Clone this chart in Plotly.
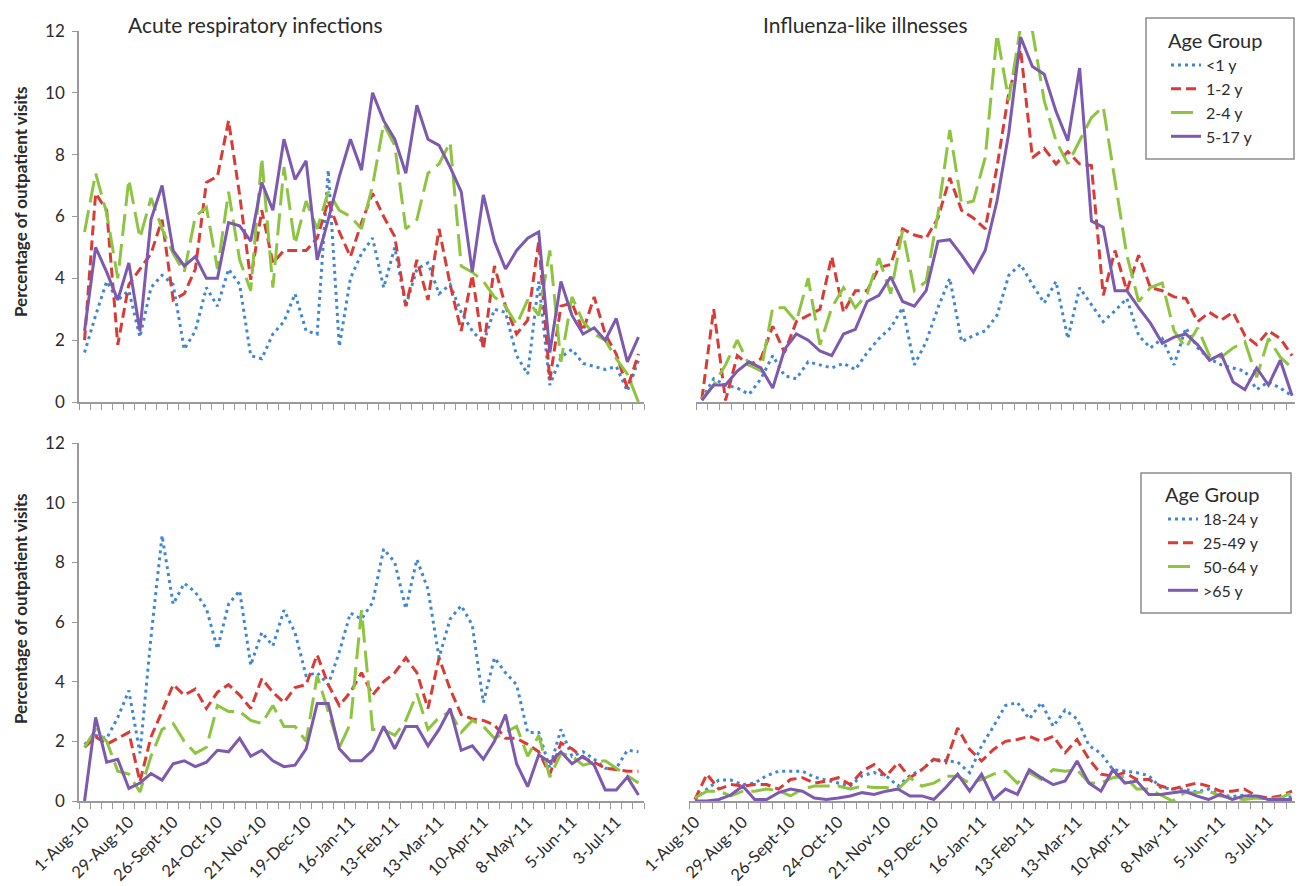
import plotly.graph_objects as go

# ---------------- data ----------------
WEEK_INDEX = list(range(51))  # weekly, 1-Aug-10 ... 17-Jul-11
TICK_POS = list(range(0, 51, 4))
TICK_LABELS = ["1-Aug-10", "29-Aug-10", "26-Sept-10", "24-Oct-10", "21-Nov-10",
               "19-Dec-10", "16-Jan-11", "13-Feb-11", "13-Mar-11", "10-Apr-11",
               "8-May-11", "5-Jun-11", "3-Jul-11"]

CHILD_GROUPS = ["<1 y", "1-2 y", "2-4 y", "5-17 y"]
ADULT_GROUPS = ["18-24 y", "25-49 y", "50-64 y", ">65 y"]

# Acute respiratory infections - children
ari_lt1 = [1.6, 2.8, 3.9, 3.3, 3.6, 2.1, 3.7, 4.1, 3.8, 1.7,
           2.3, 3.7, 3.1, 4.3, 3.8, 1.5, 1.4, 2.2, 2.6, 3.5,
           2.3, 2.2, 7.5, 1.8, 4.0, 4.8, 5.3, 3.7, 5.0, 3.1,
           4.3, 4.5, 3.5, 3.8, 2.9, 2.3, 1.9, 3.0, 2.9, 1.5,
           0.9, 3.9, 0.55, 1.45, 1.7, 1.25, 1.15, 1.05, 1.15, 0.35, 1.35]
ari_1_2 = [2.0, 6.75, 6.2, 1.85, 3.8, 4.3, 4.8, 5.9, 3.3, 3.5,
           4.3, 7.1, 7.3, 9.1, 6.7, 3.95, 6.2, 4.5, 4.9, 4.9,
           4.9, 5.3, 6.5, 5.5, 4.7, 5.8, 6.75, 6.0, 5.35, 3.1,
           4.6, 3.3, 5.6, 3.8, 2.3, 4.1, 1.7, 4.4, 3.1, 2.2,
           2.65, 5.2, 0.7, 3.1, 3.2, 2.3, 3.4, 2.2, 1.55, 0.45, 1.55]
ari_2_4 = [5.5, 7.4, 6.1, 4.0, 7.2, 5.3, 6.6, 5.6, 4.8, 4.2,
           6.0, 6.3, 4.3, 6.8, 4.6, 3.6, 7.9, 3.7, 7.6, 5.1,
           6.5, 5.6, 6.8, 6.2, 6.0, 5.6, 7.0, 9.0, 8.3, 5.6,
           5.9, 7.4, 7.7, 8.4, 4.4, 4.2, 3.9, 3.4, 3.1, 2.5,
           3.3, 2.8, 4.9, 1.3, 3.4, 2.6, 2.2, 2.0, 1.4, 0.9, 0.0]
ari_5_17 = [2.3, 5.0, 4.2, 3.3, 4.5, 2.3, 5.9, 7.0, 4.9, 4.4,
            4.7, 4.0, 4.0, 5.8, 5.7, 5.2, 7.1, 6.2, 8.5, 7.2,
            7.8, 4.6, 5.9, 7.3, 8.5, 7.5, 10.0, 9.1, 8.5, 7.4,
            9.6, 8.5, 8.3, 7.6, 6.8, 4.2, 6.7, 5.2, 4.3, 4.9,
            5.3, 5.5, 1.6, 3.9, 2.8, 2.2, 2.4, 2.0, 2.7, 1.3, 2.1]

# Influenza-like illnesses - children
ili_lt1 = [0.1, 0.75, 0.55, 0.45, 0.25, 0.75, 1.5, 0.85, 0.75, 1.3,
           1.2, 1.1, 1.25, 1.05, 1.6, 2.05, 2.4, 3.05, 1.2, 1.95,
           3.05, 4.0, 1.95, 2.15, 2.3, 2.8, 4.1, 4.45, 3.8, 3.2,
           3.9, 2.05, 3.7, 3.15, 2.6, 2.95, 3.35, 2.15, 1.75, 2.05,
           1.2, 2.4, 1.75, 1.4, 1.2, 1.1, 1.0, 0.4, 0.65, 0.45, 0.2]
ili_1_2 = [0.1, 3.0, 0.05, 1.5, 1.2, 1.4, 2.45, 1.6, 2.6, 2.8,
           3.0, 4.7, 2.9, 3.6, 3.6, 4.35, 4.45, 5.6, 5.4, 5.3,
           5.95, 7.25, 6.2, 5.95, 5.6, 7.6, 10.0, 11.4, 7.9, 8.2,
           7.7, 8.1, 7.7, 7.65, 3.45, 4.9, 3.6, 4.75, 3.7, 3.6,
           3.4, 3.35, 2.6, 2.9, 2.65, 2.9, 2.15, 1.85, 2.3, 2.05, 1.5]
ili_2_4 = [0.1, 0.55, 1.2, 2.0, 1.2, 1.0, 3.05, 3.05, 2.6, 4.0,
           1.85, 3.05, 3.7, 3.05, 3.5, 4.65, 3.5, 5.55, 3.6, 3.9,
           6.1, 8.8, 6.4, 6.5, 7.9, 11.9, 9.75, 12.15, 12.0, 9.75,
           8.45, 7.7, 8.45, 9.2, 9.55, 7.15, 4.75, 3.25, 3.7, 3.85,
           2.3, 1.75, 2.4, 1.5, 1.45, 1.75, 1.95, 0.8, 2.05, 1.45, 1.1]
ili_5_17 = [0.05, 0.55, 0.55, 1.0, 1.3, 1.1, 0.45, 1.7, 2.2, 2.0,
            1.65, 1.5, 2.2, 2.35, 3.25, 3.45, 4.05, 3.25, 3.1, 3.6,
            5.2, 5.25, 4.75, 4.2, 4.9, 6.5, 8.7, 11.8, 10.85, 10.6,
            9.4, 8.45, 10.8, 5.85, 5.65, 3.6, 3.6, 3.05, 2.55, 1.9,
            2.1, 2.2, 1.85, 1.35, 1.55, 0.65, 0.4, 1.1, 0.55, 1.35, 0.2]

# Acute respiratory infections - adults
ari_18_24 = [1.9, 2.2, 2.1, 2.8, 3.7, 1.6, 5.5, 8.9, 6.6, 7.3,
             7.0, 6.45, 5.1, 6.6, 7.05, 4.55, 5.65, 5.2, 6.4, 5.65,
             4.2, 4.3, 3.9, 5.0, 6.3, 6.1, 6.65, 8.45, 8.0, 6.45,
             8.1, 7.1, 4.8, 6.1, 6.55, 5.9, 3.3, 4.8, 4.3, 3.9,
             2.3, 2.3, 1.1, 2.4, 1.5, 1.65, 1.4, 1.1, 1.1, 1.7, 1.65]
ari_25_49 = [1.8, 2.15, 1.9, 2.1, 2.3, 0.65, 2.15, 3.0, 3.9, 3.55,
             3.75, 3.1, 3.65, 3.9, 3.55, 3.1, 4.1, 3.65, 3.3, 3.8,
             3.9, 4.9, 3.9, 3.2, 3.65, 4.3, 3.55, 4.0, 4.3, 4.8,
             4.3, 3.1, 4.8, 3.75, 2.9, 2.75, 2.7, 2.55, 2.1, 2.1,
             1.9, 1.65, 0.9, 1.95, 1.75, 1.45, 1.3, 1.1, 1.05, 1.0, 1.0]
ari_50_64 = [1.8, 2.4, 2.0, 1.0, 0.9, 0.3, 1.5, 2.4, 2.6, 2.0,
             1.6, 1.8, 3.2, 3.0, 3.0, 2.7, 2.6, 3.2, 2.5, 2.5,
             2.0, 4.2, 3.0, 1.8, 2.6, 6.4, 2.4, 2.4, 2.2, 2.7,
             3.6, 2.4, 2.8, 3.0, 2.3, 2.7, 2.5, 2.1, 2.3, 2.5,
             1.5, 2.2, 0.8, 1.6, 1.5, 1.2, 1.3, 1.35, 1.1, 0.85, 0.6]
ari_65 = [0.0, 2.8, 1.3, 1.4, 0.42, 0.6, 0.92, 0.7, 1.25, 1.35,
          1.15, 1.3, 1.7, 1.65, 2.1, 1.5, 1.7, 1.35, 1.15, 1.2,
          1.75, 3.27, 3.27, 1.75, 1.35, 1.35, 1.7, 2.5, 1.75, 2.5,
          2.5, 1.85, 2.4, 3.1, 1.7, 1.85, 1.4, 2.0, 2.9, 1.25,
          0.48, 1.55, 1.3, 1.65, 1.25, 1.5, 1.2, 0.37, 0.37, 0.8, 0.2]

# Influenza-like illnesses - adults
ili_18_24 = [0.05, 0.4, 0.7, 0.7, 0.55, 0.6, 0.85, 1.0, 1.0, 1.0,
             0.8, 0.7, 0.6, 0.5, 0.85, 0.95, 0.85, 0.5, 0.85, 1.05,
             1.4, 1.35, 1.3, 0.95, 1.85, 2.5, 3.2, 3.3, 2.75, 3.3,
             2.5, 3.05, 2.75, 1.85, 1.6, 1.05, 1.0, 0.95, 0.85, 0.45,
             0.4, 0.4, 0.3, 0.4, 0.2, 0.15, 0.2, 0.15, 0.05, 0.05, 0.15]
ili_25_49 = [0.05, 0.9, 0.4, 0.55, 0.5, 0.55, 0.55, 0.4, 0.72, 0.78,
             0.6, 0.67, 0.78, 0.55, 1.0, 1.22, 0.83, 1.28, 0.78, 1.05,
             1.4, 1.28, 2.45, 1.73, 1.34, 1.73, 2.0, 2.06, 2.17, 2.0,
             2.17, 1.62, 2.06, 1.4, 0.9, 0.83, 0.95, 0.72, 0.72, 0.5,
             0.4, 0.5, 0.6, 0.5, 0.33, 0.33, 0.4, 0.17, 0.1, 0.17, 0.33]
ili_50_64 = [0.1, 0.33, 0.33, 0.17, 0.33, 0.33, 0.4, 0.35, 0.17, 0.4,
             0.5, 0.5, 0.5, 0.4, 0.5, 0.45, 0.45, 0.4, 0.78, 0.5,
             0.6, 0.83, 0.83, 0.6, 0.72, 0.9, 1.0, 0.6, 0.95, 0.72,
             1.05, 1.0, 1.05, 0.6, 0.6, 0.78, 0.83, 0.4, 0.4, 0.2,
             0.0, 0.28, 0.28, 0.33, 0.17, 0.1, 0.05, 0.1, 0.05, 0.1, 0.28]
ili_65 = [0.0, 0.0, 0.05, 0.2, 0.5, 0.05, 0.05, 0.28, 0.4, 0.33,
          0.1, 0.05, 0.1, 0.17, 0.28, 0.22, 0.33, 0.4, 0.17, 0.17,
          0.05, 0.45, 0.9, 0.33, 0.9, 0.05, 0.4, 0.22, 1.05, 0.78,
          0.55, 0.67, 1.34, 0.6, 0.33, 1.05, 0.6, 0.67, 0.22, 0.22,
          0.28, 0.33, 0.17, 0.05, 0.22, 0.05, 0.17, 0.17, 0.05, 0.05, 0.05]

# ---------------- styling ----------------
FONT = "Lato, 'Open Sans', sans-serif"
TXT = "#2b2b2b"
AX = "#9a9a9a"
LINE_STYLES = [
    dict(color="#3f87d5", dash="3px,4px"),
    dict(color="#d93b36", dash="10px,5px"),
    dict(color="#8dc540", dash="22px,8px"),
    dict(color="#7d59b0", dash="solid"),
]
LW = 3

# the page body has an 8px margin, so the figure is drawn 8px in from the window edge
OFF = 8
W, H = 1303 - OFF, 886 - OFF


def fx(px):   # window pixel -> paper x
    return (px - OFF) / W


def fy(py):   # window pixel -> paper y
    return 1 - (py - OFF) / H


fig = go.Figure()

panels = [
    ("x", "y", [ari_lt1, ari_1_2, ari_2_4, ari_5_17], CHILD_GROUPS, "legend", False),
    ("x2", "y2", [ili_lt1, ili_1_2, ili_2_4, ili_5_17], CHILD_GROUPS, "legend", True),
    ("x3", "y3", [ari_18_24, ari_25_49, ari_50_64, ari_65], ADULT_GROUPS, "legend2", False),
    ("x4", "y4", [ili_18_24, ili_25_49, ili_50_64, ili_65], ADULT_GROUPS, "legend2", True),
]

for xa, ya, series, names, leg, show in panels:
    for vals, name, st in zip(series, names, LINE_STYLES):
        fig.add_trace(go.Scatter(
            x=WEEK_INDEX, y=vals, mode="lines", name=name,
            xaxis=xa, yaxis=ya, legend=leg, showlegend=show,
            line=dict(color=st["color"], dash=st["dash"], width=LW),
        ))

minor_vals = [i - 0.5 for i in range(len(WEEK_INDEX) + 1)]
xrange_ = [-0.5, len(WEEK_INDEX) - 0.5]


def xaxis(a, b, anchor, labels):
    return dict(
        domain=[fx(a), fx(b)], anchor=anchor, range=xrange_, showgrid=False,
        zeroline=False, automargin=False,
        showline=True, linecolor=AX, linewidth=1.5,
        tickmode="array", tickvals=TICK_POS, ticktext=TICK_LABELS,
        ticks="", showticklabels=labels, tickangle=-45, ticklabelstandoff=3,
        tickfont=dict(family=FONT, size=16.5, color=TXT),
        minor=dict(tickmode="array", tickvals=minor_vals, ticks="outside",
                   ticklen=6, tickcolor=AX, tickwidth=1.2),
    )


def yaxis(top, bottom, anchor, visible):
    return dict(
        domain=[fy(bottom), fy(top)], anchor=anchor, range=[0, 12], showgrid=False,
        zeroline=False, automargin=False,
        showline=visible, linecolor=AX, linewidth=1.5,
        tickmode="array", tickvals=[0, 2, 4, 6, 8, 10, 12],
        ticks="outside" if visible else "", ticklen=5, tickcolor=AX,
        ticklabelstandoff=4,
        showticklabels=visible, tickfont=dict(family=FONT, size=17, color=TXT),
    )


def legend_cfg(left, top):
    return dict(x=fx(left), y=fy(top), xanchor="left", yanchor="top",
                borderwidth=0, bgcolor="rgba(0,0,0,0)",
                title=dict(text="Age Group", font=dict(family=FONT, size=20, color=TXT)),
                font=dict(family=FONT, size=16, color=TXT), tracegroupgap=0)


fig.update_layout(
    width=W, height=H, paper_bgcolor="white", plot_bgcolor="white",
    margin=dict(l=0, r=0, t=0, b=0, autoexpand=False),
    font=dict(family=FONT, color=TXT),
    xaxis=xaxis(79, 644, "y", False),
    yaxis=yaxis(31, 402, "x", True),
    xaxis2=xaxis(696, 1298, "y2", False),
    yaxis2=yaxis(31, 402, "x2", False),
    xaxis3=xaxis(79, 644, "y3", True),
    yaxis3=yaxis(443, 801, "x3", True),
    xaxis4=xaxis(689, 1298, "y4", True),
    yaxis4=yaxis(443, 801, "x4", False),
    legend=legend_cfg(1166, 22),
    legend2=legend_cfg(1163, 476),
    showlegend=True,
)

# legend frames
for (x0, y0, x1, y1) in [(1146, 18, 1294, 159), (1141, 473, 1291, 613)]:
    fig.add_shape(type="rect", xref="paper", yref="paper",
                  x0=fx(x0), x1=fx(x1), y0=fy(y1), y1=fy(y0),
                  line=dict(color="#8c8c8c", width=1.5), fillcolor="rgba(0,0,0,0)",
                  layer="below")

annots = [
    dict(text="Acute respiratory infections", x=fx(255), y=fy(10)),
    dict(text="Influenza-like illnesses", x=fx(865), y=fy(10)),
]
for a in annots:
    fig.add_annotation(xref="paper", yref="paper", showarrow=False,
                       xanchor="center", yanchor="top",
                       font=dict(family=FONT, size=21, color=TXT), **a)

for yc in [202, 609]:
    fig.add_annotation(xref="paper", yref="paper", showarrow=False,
                       x=fx(20), y=fy(yc), textangle=-90,
                       xanchor="center", yanchor="middle",
                       text="<b>Percentage of outpatient visits</b>",
                       font=dict(family=FONT, size=17, color=TXT))

fig.write_html("out.html")
